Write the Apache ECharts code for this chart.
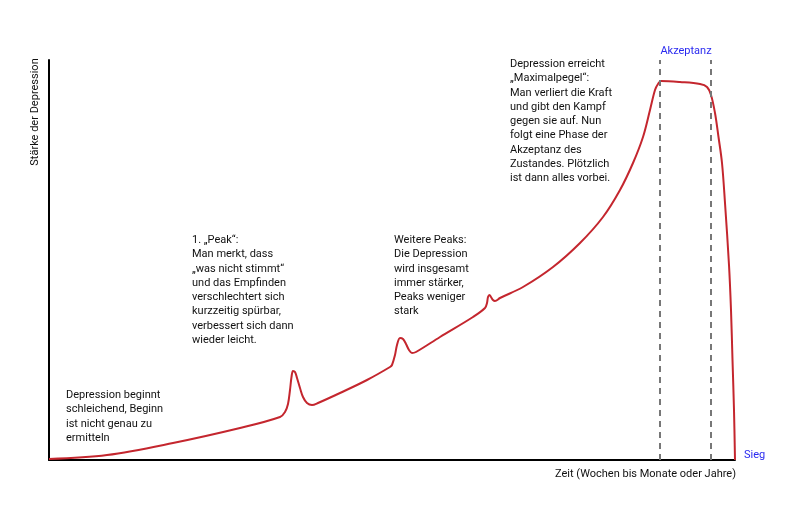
<!DOCTYPE html>
<html>
<head>
<meta charset="utf-8">
<script src="https://cdn.jsdelivr.net/npm/echarts@6/dist/echarts.min.js"></script>
<style>
html,body{margin:0;padding:0;background:#fff;}
#chart{width:800px;height:520px;}
</style>
</head>
<body>
<div id="chart"></div>
<script>
// Verlauf der Kurve (x = Zeit, y = Stärke)
var zeit = [0, 58, 124, 191, 231, 236, 239, 241, 242.5, 244, 246, 248, 251, 254, 258, 263, 269, 291, 318, 341, 343, 346, 348, 351, 354, 357, 360, 363, 367, 391, 424, 436, 438, 439, 440.5, 442, 444, 446, 451, 474, 504, 531, 554, 571, 584, 594, 601, 606, 609, 612, 631, 651, 658, 662, 666, 669.5, 673, 676, 680, 682, 683.5, 685, 686];
var staerke = [1, 5, 17, 32, 43, 48, 56, 70, 83, 89, 88, 82, 72, 63, 57, 55, 57, 67, 80, 93, 95, 105, 115, 122, 121, 116, 110, 107, 108, 123, 143, 152, 157, 163, 165, 163, 160, 159, 162, 173, 193, 217, 243, 270, 297, 323, 350, 370, 376, 379, 378, 376, 373, 365, 347, 323, 297, 257, 195, 150, 100, 50, 0];
var akzeptanzGrenzen = [611, 662];

var texte = [
	{x: 66, y: 388, t: "Depression beginnt\nschleichend, Beginn\nist nicht genau zu\nermitteln"},
	{x: 192, y: 233, t: "1. „Peak“:\nMan merkt, dass\n„was nicht stimmt“\nund das Empfinden\nverschlechtert sich\nkurzzeitig spürbar,\nverbessert sich dann\nwieder leicht."},
	{x: 394, y: 233, t: "Weitere Peaks:\nDie Depression\nwird insgesamt\nimmer stärker,\nPeaks weniger\nstark"},
	{x: 510, y: 57, t: "Depression erreicht\n„Maximalpegel“:\nMan verliert die Kraft\nund gibt den Kampf\ngegen sie auf. Nun\nfolgt eine Phase der\nAkzeptanz des\nZustandes. Plötzlich\nist dann alles vorbei."}
];

var schrift = 'Roboto, sans-serif';
var myChart = echarts.init(document.getElementById("chart"));

var punkte = [];
for (var i = 0; i < zeit.length; i++) {
	punkte.push([zeit[i], staerke[i]]);
}

var grafik = [];
for (var j = 0; j < texte.length; j++) {
	grafik.push({
		type: 'text', left: texte[j].x, top: texte[j].y,
		style: {text: texte[j].t, fill: '#111', font: '11px ' + schrift, lineHeight: 14.3}
	});
}
grafik.push({
	type: 'text', x: 35, y: 112, rotation: Math.PI / 2,
	style: {text: 'Stärke der Depression', fill: '#111', font: '11px ' + schrift, align: 'center', verticalAlign: 'middle'}
});
grafik.push({
	type: 'text', x: 736, y: 474,
	style: {text: 'Zeit (Wochen bis Monate oder Jahre)', fill: '#111', font: '11px ' + schrift, align: 'right', verticalAlign: 'middle'}
});
grafik.push({
	type: 'text', x: 686, y: 51,
	style: {text: 'Akzeptanz', fill: '#2a2af0', font: '11px ' + schrift, align: 'center', verticalAlign: 'middle'}
});
grafik.push({
	type: 'text', x: 744, y: 455,
	style: {text: 'Sieg', fill: '#2a2af0', font: '11px ' + schrift, align: 'left', verticalAlign: 'middle'}
});

var option = {
	animation: false,
	backgroundColor: '#fff',
	grid: {left: 49, right: 65, top: 60, bottom: 60},
	xAxis: {
		type: 'value', min: 0, max: 686,
		axisLine: {show: true, onZero: false, lineStyle: {color: '#000', width: 2}},
		axisTick: {show: false}, axisLabel: {show: false}, splitLine: {show: false}
	},
	yAxis: {
		type: 'value', min: 0, max: 400,
		axisLine: {show: true, onZero: false, lineStyle: {color: '#000', width: 2}},
		axisTick: {show: false}, axisLabel: {show: false}, splitLine: {show: false}
	},
	series: [{
		type: 'line',
		data: punkte,
		smooth: 0.35,
		showSymbol: false,
		lineStyle: {color: '#c4262e', width: 2},
		markLine: {
			silent: true,
			symbol: 'none',
			label: {show: false},
			lineStyle: {color: '#777', type: [6, 5], width: 2},
			data: [{xAxis: akzeptanzGrenzen[0]}, {xAxis: akzeptanzGrenzen[1]}]
		}
	}],
	graphic: grafik
};
myChart.setOption(option);
</script>
</body>
</html>
